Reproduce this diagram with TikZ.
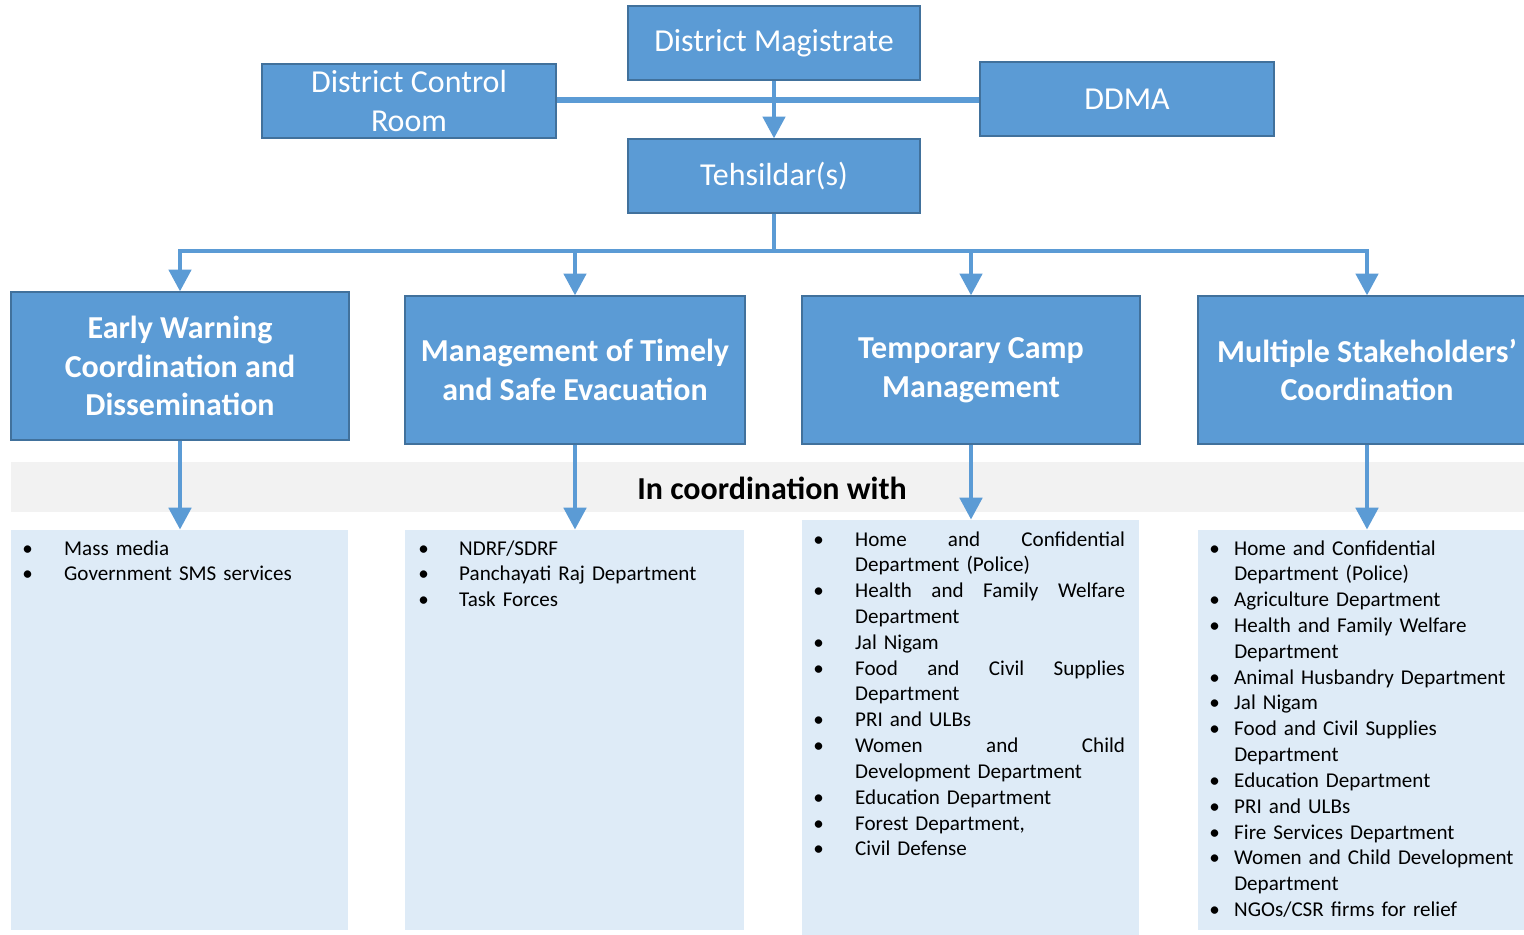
\documentclass[tikz,border=0pt]{standalone}
\usepackage{fontspec}
\setmainfont{Carlito}
\usetikzlibrary{arrows.meta}

\definecolor{boxblue}{HTML}{5B9BD5}
\definecolor{boxedge}{HTML}{41719C}
\definecolor{listfill}{HTML}{DEEBF7}
\definecolor{bandgrey}{HTML}{F2F2F2}

% bullet item with hanging indent
\newlength\bulind
\newcommand\bitem[1]{\hangindent=\bulind\hangafter=1\makebox[\bulind][l]{\textbullet}#1\par}
% a line spread out to the full column width
\newcommand\jline[1]{\makebox[153.6pt][l]{#1}\newline}

\begin{document}
\begin{tikzpicture}[x=0.02cm,y=-0.02cm,
  unitbox/.style={draw=boxedge, line width=0.6pt, fill=boxblue, text=white,
    align=center, inner sep=0pt, minimum height=74*0.02cm,
    font=\fontsize{18.2pt}{22.1pt}\selectfont},
  taskbox/.style={draw=boxedge, line width=0.6pt, fill=boxblue, text=white,
    align=center, inner sep=0pt, minimum height=148*0.02cm,
    font=\fontsize{18.2pt}{22.1pt}\selectfont\bfseries},
  listbox/.style={fill=listfill, draw=none, inner sep=0pt},
  listtext/.style={anchor=base west, inner sep=0pt,
    font=\fontsize{12pt}{14.7pt}\selectfont},
  conn/.style={draw=boxblue, line width=2.8pt},
  arr/.style={conn, -{Triangle[width=12.5pt,length=12.5pt]}}
]
\useasboundingbox (0,0) rectangle (1524,935);
\clip (0,0) rectangle (1524,935);
\fill[white] (0,0) rectangle (1524,935);

% grey band behind the lower connectors
\fill[bandgrey] (11,462) rectangle (1524,512);
\node[font=\fontsize{18.2pt}{22pt}\selectfont\bfseries] (coord) at (772,488) {In coordination with};

% list panels
\node[listbox, minimum width=337*0.02cm, minimum height=400*0.02cm] (l1) at (179.5,730) {};
\node[listbox, minimum width=339*0.02cm, minimum height=400*0.02cm] (l2) at (574.5,730) {};
\node[listbox, minimum width=337*0.02cm, minimum height=415*0.02cm] (l3) at (970.5,727.5) {};
\node[listbox, minimum width=338*0.02cm, minimum height=400*0.02cm] (l4) at (1367,730) {};

% top of the hierarchy
\node[unitbox, minimum width=292*0.02cm] (dm) at (774,43) {District Magistrate};
\node[unitbox, minimum width=294*0.02cm] (dcr) at (409,101) {District Control\\Room};
\node[unitbox, minimum width=294*0.02cm] (ddma) at (1127,99) {DDMA};
\node[unitbox, minimum width=292*0.02cm] (teh) at (774,176) {Tehsildar(s)};

% task boxes
\node[taskbox, minimum width=338*0.02cm] (ew) at (180,366) {Early Warning\\Coordination and\\Dissemination};
\node[taskbox, minimum width=340*0.02cm] (mte) at (575,370) {Management of Timely\\and Safe Evacuation};
\node[taskbox, minimum width=338*0.02cm] (tcm) at (971,370) {Temporary Camp\\Management};
\node[taskbox, minimum width=338*0.02cm] (msc) at (1367,370) {Multiple Stakeholders’\\Coordination};

% connectors
\coordinate (mid) at (774,100);
\draw[conn, line width=3.2pt] (dcr.east |- mid) -- (ddma.west |- mid);
\draw[arr] (dm.south) -- (teh.north);
\coordinate (bus) at (774,251);
\draw[conn] (teh.south) -- (bus);
\draw[conn, line cap=rect] (ew.north |- bus) -- (msc.north |- bus);
\foreach \b in {ew,mte,tcm,msc}
  \draw[arr] (\b.north |- bus) -- (\b.north);
\draw[arr] (ew.south) -- (ew.south |- l1.north);
\draw[arr] (mte.south) -- (mte.south |- l2.north);
\draw[arr] (tcm.south) -- (tcm.south |- l3.north);
\draw[arr] (msc.south) -- (msc.south |- l4.north);

% list contents
\node[listtext, text width=320*0.02cm] (t1) at (22,555) {\setlength\bulind{42\dimexpr0.5669pt\relax}%
  \bitem{Mass media}
  \bitem{Government SMS services}};
\node[listtext, text width=320*0.02cm] (t2) at (418,555) {\setlength\bulind{41\dimexpr0.5669pt\relax}%
  \bitem{NDRF/SDRF}
  \bitem{Panchayati Raj Department}
  \bitem{Task Forces}};
\node[listtext, text width=320*0.02cm] (t3) at (813,546) {\setlength\bulind{42\dimexpr0.5669pt\relax}%
  \bitem{\jline{Home\hfill and\hfill Confidential}Department (Police)}
  \bitem{\jline{Health\hfill and\hfill Family\hfill Welfare}Department}
  \bitem{Jal Nigam}
  \bitem{\jline{Food\hfill and\hfill Civil\hfill Supplies}Department}
  \bitem{PRI and ULBs}
  \bitem{\jline{Women\hfill and\hfill Child}Development Department}
  \bitem{Education Department}
  \bitem{Forest Department,}
  \bitem{Civil Defense}};
\node[listtext, text width=312*0.02cm] (t4) at (1209,555) {\setlength\bulind{25\dimexpr0.5669pt\relax}%
  \bitem{Home and Confidential\newline Department (Police)}
  \bitem{Agriculture Department}
  \bitem{Health and Family Welfare\newline Department}
  \bitem{Animal Husbandry Department}
  \bitem{Jal Nigam}
  \bitem{Food and Civil Supplies\newline Department}
  \bitem{Education Department}
  \bitem{PRI and ULBs}
  \bitem{Fire Services Department}
  \bitem{Women and Child Development\newline Department}
  \bitem{NGOs/CSR firms for relief}};
\end{tikzpicture}
\end{document}
